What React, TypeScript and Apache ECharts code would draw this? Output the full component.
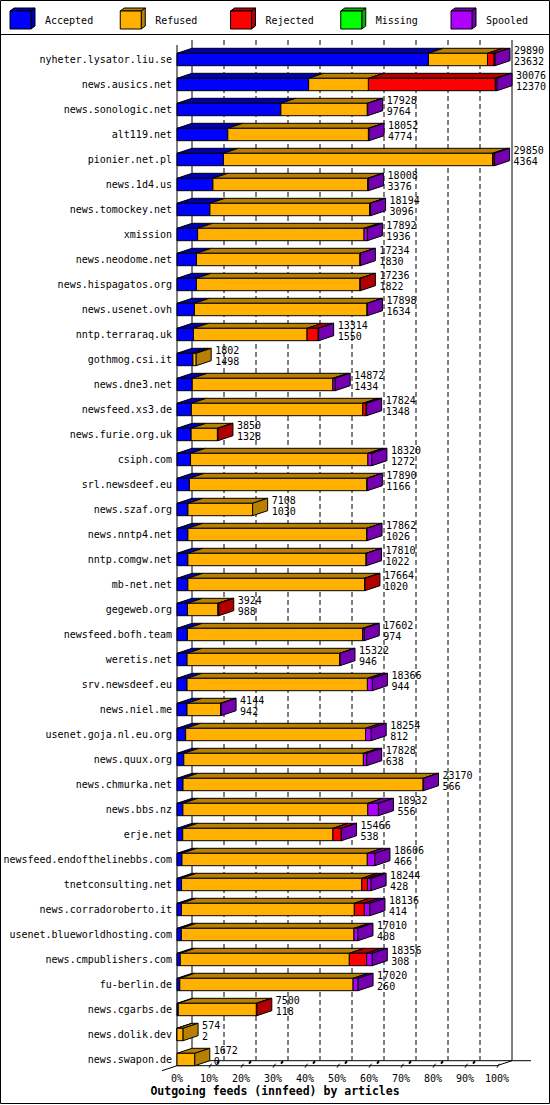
import React, { useEffect, useRef } from "react";
import * as echarts from "echarts";

const CATEGORIES = [
  "nyheter.lysator.liu.se", "news.ausics.net", "news.sonologic.net", "alt119.net", "pionier.net.pl",
  "news.1d4.us", "news.tomockey.net", "xmission", "news.neodome.net", "news.hispagatos.org",
  "news.usenet.ovh", "nntp.terraraq.uk", "gothmog.csi.it", "news.dne3.net", "newsfeed.xs3.de",
  "news.furie.org.uk", "csiph.com", "srl.newsdeef.eu", "news.szaf.org", "news.nntp4.net",
  "nntp.comgw.net", "mb-net.net", "gegeweb.org", "newsfeed.bofh.team", "weretis.net",
  "srv.newsdeef.eu", "news.niel.me", "usenet.goja.nl.eu.org", "news.quux.org", "news.chmurka.net",
  "news.bbs.nz", "erje.net", "newsfeed.endofthelinebbs.com", "tnetconsulting.net", "news.corradoroberto.it",
  "usenet.blueworldhosting.com", "news.cmpublishers.com", "fu-berlin.de", "news.cgarbs.de", "news.dolik.dev",
  "news.swapon.de",
];
const TOTALS = [
  29890, 30076, 17928, 18052, 29850, 18008, 18194, 17892, 17234, 17236,
  17898, 13314, 1802, 14872, 17824, 3850, 18320, 17890, 7108, 17862,
  17810, 17664, 3924, 17602, 15322, 18366, 4144, 18254, 17828, 23170,
  18932, 15466, 18606, 18244, 18136, 17010, 18356, 17020, 7500, 574,
  1672,
];
const ACCEPTED = [
  23632, 12370, 9764, 4774, 4364, 3376, 3096, 1936, 1830, 1822,
  1634, 1550, 1498, 1434, 1348, 1328, 1272, 1166, 1030, 1026,
  1022, 1020, 988, 974, 946, 944, 942, 812, 638, 566,
  556, 538, 466, 428, 414, 408, 308, 260, 118, 2,
  0,
];
const REFUSED = [
  5550, 5620, 8124, 13218, 25296, 14542, 14998, 15646, 15364, 15374,
  16224, 10674, 304, 13218, 16116, 2472, 16672, 16684, 6078, 16796,
  16748, 16604, 2856, 16478, 14336, 16952, 3162, 16912, 16880, 22564,
  17376, 14118, 17420, 16941, 16252, 16226, 15888, 16290, 7342, 572,
  1672,
];
const REJECTED = [
  620, 11930, 0, 0, 150, 0, 0, 0, 0, 40,
  0, 1050, 0, 0, 310, 50, 0, 0, 0, 0,
  0, 40, 80, 0, 0, 0, 0, 0, 0, 0,
  0, 780, 0, 530, 940, 0, 1630, 0, 40, 0,
  0,
];
const MISSING = [
  0, 0, 0, 0, 0, 0, 0, 0, 0, 0,
  0, 0, 0, 0, 0, 0, 0, 0, 0, 0,
  0, 0, 0, 0, 0, 0, 0, 0, 0, 0,
  0, 0, 0, 0, 0, 0, 0, 0, 0, 0,
  0,
];
const SPOOLED = [
  88, 156, 40, 60, 40, 90, 100, 310, 40, 0,
  40, 40, 0, 220, 50, 0, 376, 40, 0, 40,
  40, 0, 0, 150, 40, 470, 40, 530, 310, 40,
  1000, 30, 720, 345, 530, 376, 530, 470, 0, 0,
  0,
];
const SERIES_NAMES = ["Accepted", "Refused", "Rejected", "Missing", "Spooled"];
const PERCENT_STEP = 10;
const TITLE = "Outgoing feeds (innfeed) by articles";

const FRONT = ["#0000ff", "#ffb000", "#ff0000", "#00ff00", "#b000ff"];
const SHADE = ["#0000b0", "#b88000", "#b00000", "#00b000", "#7400b0"];
const FONT_FAMILY = '"DejaVu Sans Mono", "Liberation Mono", monospace';
const FONT = `10px ${FONT_FAMILY}`;
const DX = 15;
const DY = 5;

export default function App() {
  const ref = useRef<HTMLDivElement>(null);

  useEffect(() => {
    const chart = echarts.init(ref.current as HTMLDivElement, null, { renderer: "svg" });
    const MAX = Math.max(...TOTALS);
    const N = CATEGORIES.length;
    const rows = CATEGORIES.map((_, i) => [
      i, ACCEPTED[i], REFUSED[i], REJECTED[i], MISSING[i], SPOOLED[i], TOTALS[i],
    ]);
    const pct = (v: number) => (v / MAX) * 100;

    const renderBar = (params: any, api: any) => {
      const i = api.value(0);
      const vals = [api.value(1), api.value(2), api.value(3), api.value(4), api.value(5)];
      const total = api.value(6);
      const cy = api.coord([0, i])[1];
      const hh = api.size([0, 1])[1] * 0.248;
      const yTop = cy - hh;
      const yBot = cy + hh;
      let last = -1;
      vals.forEach((v: number, k: number) => {
        if (v > 0) last = k;
      });
      const children: any[] = [];
      let cum = 0;
      let xEnd = api.coord([0, i])[0];
      vals.forEach((v: number, k: number) => {
        if (v <= 0) return;
        const x0 = api.coord([pct(cum), i])[0];
        cum += v;
        const x1 = api.coord([pct(cum), i])[0];
        xEnd = x1;
        children.push({
          type: "polygon",
          shape: { points: [[x0, yTop], [x1, yTop], [x1 + DX, yTop - DY], [x0 + DX, yTop - DY]] },
          style: { fill: SHADE[k], stroke: "#000", lineWidth: 1 },
        });
        children.push({
          type: "rect",
          shape: { x: x0, y: yTop, width: x1 - x0, height: yBot - yTop },
          style: { fill: FRONT[k], stroke: "#000", lineWidth: 1 },
        });
        if (k === last) {
          children.push({
            type: "polygon",
            shape: { points: [[x1, yTop], [x1 + DX, yTop - DY], [x1 + DX, yBot - DY], [x1, yBot]] },
            style: { fill: SHADE[k], stroke: "#000", lineWidth: 1 },
          });
        }
      });
      children.push({
        type: "text",
        x: xEnd + 19,
        y: cy - 9.5,
        style: { text: String(total), font: FONT, fill: "#000", align: "left", verticalAlign: "middle" },
      });
      children.push({
        type: "text",
        x: xEnd + 19,
        y: cy + 1.5,
        style: { text: String(vals[0]), font: FONT, fill: "#000", align: "left", verticalAlign: "middle" },
      });
      return { type: "group", children };
    };

    const renderFrame = (params: any, api: any) => {
      const cs = params.coordSys;
      const x0 = api.coord([0, 0])[0];
      const x100 = api.coord([100, 0])[0];
      const hh = api.size([0, 1])[1] * 0.248;
      const yFF = api.coord([0, N - 1])[1] + hh;
      const yFB = yFF - DY;
      const yTB = cs.y - 7;
      const yTF = yTB + DY;
      const line = (a: number[], b: number[], extra: any = {}) => ({
        type: "line",
        shape: { x1: a[0], y1: a[1], x2: b[0], y2: b[1] },
        style: { stroke: "#000", lineWidth: 1, ...extra },
      });
      const children: any[] = [];
      for (let p = PERCENT_STEP; p < 100; p += PERCENT_STEP) {
        const xf = api.coord([p, 0])[0];
        children.push(line([xf + DX, yTB], [xf + DX, yFB], { lineDash: [5, 3] }));
      }
      children.push(line([x0 + DX, yTB], [x0 + DX, yFB]));
      children.push(line([x100 + DX, yTB], [x100 + DX, yFB]));
      children.push(line([x0 + DX, yFB], [x100 + DX + 19, yFB]));
      children.push(line([x0, yTF], [x0, yFF]));
      children.push(line([x0, yFF], [x100, yFF]));
      children.push(line([x100, yFF], [x100 + DX, yFB]));
      children.push(line([x0 - DX, yFF + DY], [x0, yFF]));
      for (let p = PERCENT_STEP; p <= 100; p += PERCENT_STEP) {
        const xf = api.coord([p, 0])[0];
        children.push(line([xf, yFF + 2], [xf + 2.5, yFF - 2]));
        if (p < 100) children.push(line([xf + 8, yFF - 2], [xf + 10, yFF - 4.5], { lineWidth: 2 }));
      }
      return { type: "group", children };
    };

    const graphics: any[] = [
      {
        type: "rect",
        shape: { x: 0.5, y: 0.5, width: 549, height: 1103 },
        style: { fill: "none", stroke: "#000", lineWidth: 1 },
        silent: true,
      },
      {
        type: "line",
        shape: { x1: 0, y1: 34.5, x2: 550, y2: 34.5 },
        style: { stroke: "#000", lineWidth: 1 },
      },
    ];
    SERIES_NAMES.forEach((name, k) => {
      const lx = 10 + 110.25 * k;
      graphics.push({
        type: "polygon",
        shape: { points: [[lx, 11], [lx + 21, 11], [lx + 25, 8], [lx + 4, 8]] },
        style: { fill: SHADE[k], stroke: "#000", lineWidth: 1 },
      });
      graphics.push({
        type: "polygon",
        shape: { points: [[lx + 21, 11], [lx + 25, 8], [lx + 25, 26], [lx + 21, 29]] },
        style: { fill: SHADE[k], stroke: "#000", lineWidth: 1 },
      });
      graphics.push({
        type: "rect",
        shape: { x: lx, y: 11, width: 21, height: 18 },
        style: { fill: FRONT[k], stroke: "#000", lineWidth: 1 },
      });
      graphics.push({
        type: "text",
        x: lx + 35,
        y: 20,
        style: { text: name, font: FONT, fill: "#000", verticalAlign: "middle", align: "left" },
      });
    });

    const option: any = {
      animation: false,
      backgroundColor: "#ffffff",
      title: {
        text: TITLE,
        left: "center",
        top: 1085,
        padding: 0,
        textStyle: { fontFamily: FONT_FAMILY, fontSize: 11.5, fontWeight: "bold", color: "#000" },
      },
      grid: { left: 177, top: 47, width: 320, height: 1025 },
      xAxis: {
        type: "value",
        min: 0,
        max: 100,
        interval: PERCENT_STEP,
        axisLine: { show: false },
        axisTick: { show: false },
        splitLine: { show: false },
        axisLabel: {
          formatter: "{value}%",
          fontFamily: FONT_FAMILY,
          fontSize: 10,
          color: "#000",
          margin: 1,
        },
      },
      yAxis: {
        type: "category",
        inverse: true,
        data: CATEGORIES,
        axisLine: { show: false },
        axisTick: { show: false },
        splitLine: { show: false },
        axisLabel: { fontFamily: FONT_FAMILY, fontSize: 10, color: "#000", margin: 5, interval: 0 },
      },
      graphic: graphics,
      series: [
        {
          type: "custom",
          name: "frame",
          renderItem: renderFrame,
          data: [[0, 0]],
          clip: false,
          silent: true,
          z: 1,
        },
        {
          type: "custom",
          name: "bars",
          renderItem: renderBar,
          data: rows,
          encode: { x: 6, y: 0 },
          clip: false,
          z: 2,
        },
      ],
    };
    chart.setOption(option);
    return () => chart.dispose();
  }, []);

  return (
    <div
      ref={ref}
      style={{ position: "absolute", left: 0, top: 0, width: 550, height: 1105, background: "#fff" }}
    />
  );
}
